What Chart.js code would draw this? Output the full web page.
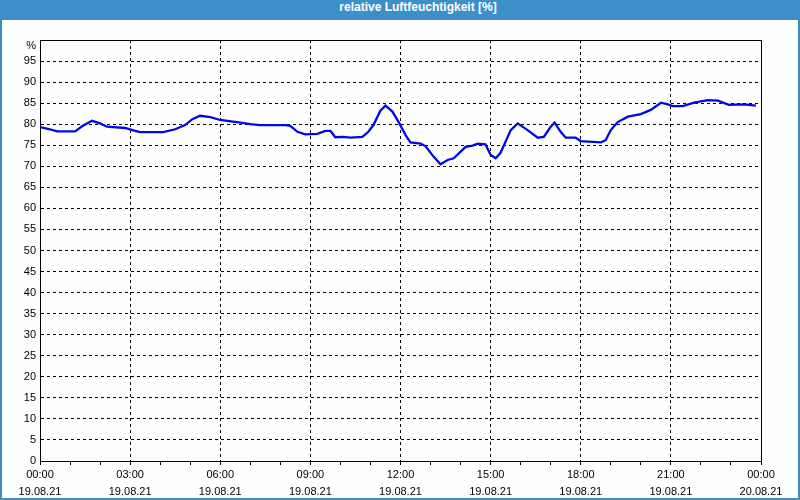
<!DOCTYPE html>
<html>
<head>
<meta charset="utf-8">
<script src="https://cdn.jsdelivr.net/npm/chart.js@4"></script>
<style>
  html, body { margin: 0; padding: 0; }
  body { width: 800px; height: 500px; overflow: hidden; background: #3d8fc7; }
  #title {
    height: 20px; line-height: 20px; color: #fff;
    font: bold 12px "Liberation Sans", Arial, sans-serif;
    text-align: center; padding-left: 36px;
  }
  #frame {
    position: absolute; left: 2px; top: 20px; width: 796px; height: 478px;
    background: #fdfefd;
  }
</style>
</head>
<body>
<div id="title">relative Luftfeuchtigkeit [%]</div>
<div id="frame"><canvas id="mycanvas" width="796" height="478"></canvas></div>
<script>
// hours since 19.08.21 00:00
var hours = [0, 0.33, 0.57, 1.17, 1.4, 1.73, 2.0, 2.23, 2.83, 3.17, 3.33, 4.1, 4.5, 4.83, 5.07, 5.33, 5.67, 6.0,
  6.67, 7.0, 7.33, 8.17, 8.33, 8.57, 8.83, 9.23, 9.5, 9.67, 9.83, 10.1, 10.33, 10.73, 10.93, 11.1, 11.33, 11.5,
  11.73, 11.93, 12.17, 12.33, 12.67, 12.83, 13.1, 13.33, 13.57, 13.77, 14.17, 14.4, 14.57, 14.83, 15.0, 15.17,
  15.33, 15.67, 15.9, 16.23, 16.57, 16.77, 17.0, 17.13, 17.33, 17.5, 17.83, 18.0, 18.67, 18.83, 19.0, 19.23,
  19.57, 20.0, 20.33, 20.67, 20.9, 21.07, 21.4, 21.77, 22.23, 22.57, 22.93, 23.43, 23.83];
var humidity = [79.3, 78.8, 78.3, 78.3, 79.5, 80.8, 80.2, 79.4, 79.1, 78.4, 78.1, 78.1, 78.8, 79.8, 81.2, 82.0, 81.7, 81.0,
  80.4, 80.0, 79.8, 79.8, 79.6, 78.2, 77.6, 77.7, 78.4, 78.4, 76.9, 77.0, 76.8, 77.0, 78.2, 79.8, 83.2, 84.4,
  83.0, 80.6, 77.4, 75.7, 75.4, 74.8, 72.3, 70.5, 71.5, 71.9, 74.6, 74.9, 75.4, 75.2, 72.7, 71.9,
  73.2, 78.6, 80.2, 78.6, 76.8, 77.0, 79.4, 80.4, 78.2, 76.8, 76.8, 76.0, 75.7, 76.2, 78.6, 80.5,
  81.8, 82.4, 83.4, 85.1, 84.7, 84.3, 84.3, 85.1, 85.7, 85.6, 84.6, 84.7, 84.4];
var timeLabels = ['00:00', '03:00', '06:00', '09:00', '12:00', '15:00', '18:00', '21:00', '00:00'];
var dateLabels = ['19.08.21', '19.08.21', '19.08.21', '19.08.21', '19.08.21', '19.08.21', '19.08.21', '19.08.21', '20.08.21'];
var unit = '%';

var points = [];
for (var i in hours) {
  points.push({x: hours[i], y: humidity[i]});
}

var font = {family: '"Liberation Sans", Arial, sans-serif', size: 11};

// solid frame round the plot and the unit label above the y ticks
var frame = {
  id: 'frame',
  beforeDatasetsDraw: function(chart) {
    var a = chart.chartArea, c = chart.ctx;
    c.save();
    c.strokeStyle = '#000';
    c.lineWidth = 1;
    c.strokeRect(Math.round(a.left) + 0.5, Math.round(a.top) + 0.5,
      Math.round(a.right - a.left), Math.round(a.bottom - a.top));
    c.fillStyle = '#000';
    c.font = font.size + 'px ' + font.family;
    c.textAlign = 'right';
    c.textBaseline = 'middle';
    c.fillText(unit, a.left - 4, chart.scales.y.getPixelForValue(100) + 6);
    c.restore();
  }
};

new Chart(document.getElementById('mycanvas'), {
  type: 'line',
  data: {
    datasets: [{
      data: points,
      borderColor: '#0008e6',
      borderWidth: 2.3,
      pointRadius: 0,
      tension: 0,
      fill: false
    }]
  },
  options: {
    responsive: false,
    animation: false,
    events: [],
    layout: {padding: {left: 0, top: 20, right: 37, bottom: 0}},
    plugins: {legend: {display: false}, tooltip: {enabled: false}},
    scales: {
      x: {
        type: 'linear', min: 0, max: 24,
        afterFit: function(s) { s.height = 37; },
        border: {color: '#000', width: 1, dash: [3, 3]},
        grid: {
          color: function(ctx) {
            var v = ctx.tick.value;
            return (v % 3 === 0 && v > 0 && v < 24) ? '#000' : 'rgba(0,0,0,0)';
          },
          tickColor: '#000', tickLength: 4, tickBorderDash: []
        },
        ticks: {
          stepSize: 1, autoSkip: false, maxRotation: 0, padding: 1,
          color: '#000', font: {family: font.family, size: 11, lineHeight: 1.6},
          callback: function(v) {
            if (v % 3 !== 0) return '';
            return [timeLabels[v / 3], dateLabels[v / 3]];
          }
        }
      },
      y: {
        min: 0, max: 100,
        afterFit: function(s) { s.width = 38; },
        border: {color: '#000', width: 1, dash: [3, 3]},
        grid: {
          color: function(ctx) {
            var v = ctx.tick.value;
            return (v > 0 && v < 100) ? '#000' : 'rgba(0,0,0,0)';
          },
          drawTicks: false
        },
        ticks: {
          stepSize: 5, padding: 4, color: '#000', font: font,
          callback: function(v) { return v === 100 ? '' : v; }
        }
      }
    }
  },
  plugins: [frame]
});
</script>
</body>
</html>
